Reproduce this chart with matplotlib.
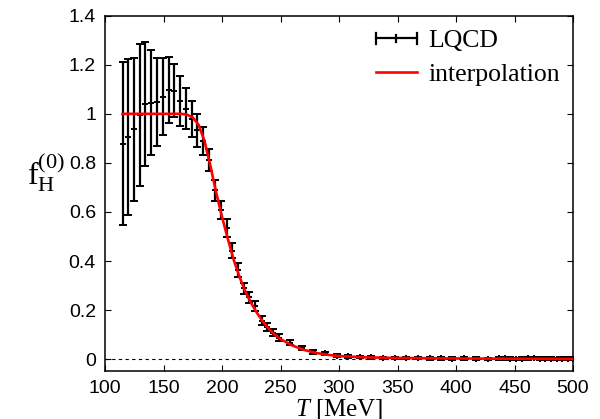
import matplotlib
matplotlib.use("Agg")
import matplotlib.pyplot as plt
from matplotlib.ticker import FuncFormatter
from matplotlib.lines import Line2D
from matplotlib.legend_handler import HandlerBase

# LQCD data
T_lqcd = [115, 120, 124.5, 129.5, 134.5, 139.5, 144.5, 149.5, 154.5, 159, 164, 169, 174, 179,
          184, 189, 194, 199, 204, 208.5, 213.5, 218.5, 223.5, 228.5, 234, 238.5, 243.5, 248.5,
          258.5, 268, 278, 288, 298, 308, 318, 327.5, 337.5, 347.5, 357.5, 367.5, 377.5, 387.5,
          397, 407, 417, 427, 437, 441.5, 446.5, 451.5, 456.5, 461.5, 466.5, 471.5, 476, 481,
          486, 491, 495.5, 500]
f_lqcd = [0.879, 0.905, 0.937, 0.996, 1.041, 1.046, 1.049, 1.07, 1.097, 1.094, 1.053, 1.021,
          0.979, 0.933, 0.89, 0.81, 0.688, 0.608, 0.534, 0.443, 0.364, 0.289, 0.252, 0.218,
          0.157, 0.13, 0.108, 0.088, 0.068, 0.045, 0.031, 0.024, 0.014, 0.012, 0.010, 0.007,
          0.006, 0.005, 0.004, 0.004, 0.003, 0.003, 0.002, 0.003, 0.002, 0.001, 0.003, 0.003,
          0.002, 0.001, 0.002, 0.003, 0.004, 0.002, 0.002, 0.002, 0.001, 0.002, 0.002, 0.002]
err_lqcd = [0.333, 0.317, 0.292, 0.289, 0.253, 0.213, 0.179, 0.157, 0.135, 0.108, 0.102, 0.084,
            0.072, 0.067, 0.058, 0.045, 0.043, 0.038, 0.037, 0.032, 0.027, 0.023, 0.022, 0.02,
            0.018, 0.017, 0.015, 0.013, 0.011, 0.009, 0.008, 0.007, 0.006, 0.006, 0.005, 0.005,
            0.005, 0.005, 0.005, 0.005, 0.005, 0.005, 0.005, 0.005, 0.005, 0.005, 0.005, 0.005,
            0.005, 0.005, 0.005, 0.005, 0.005, 0.005, 0.005, 0.005, 0.005, 0.005, 0.005, 0.005]

# interpolation curve
T_interp = [115, 130, 150, 165, 170, 175, 180, 185, 190, 195, 200, 205, 210, 215, 220, 225,
            230, 235, 240, 245, 250, 260, 270, 280, 290, 300, 320, 350, 400, 450, 500]
f_interp = [1.0, 1.0, 1.0, 1.0, 0.997, 0.985, 0.955, 0.89, 0.79, 0.68, 0.58, 0.49, 0.405,
            0.335, 0.275, 0.228, 0.188, 0.153, 0.124, 0.100, 0.082, 0.056, 0.038, 0.026,
            0.018, 0.013, 0.008, 0.005, 0.003, 0.002, 0.001]

x_ticks = [100, 150, 200, 250, 300, 350, 400, 450, 500]
y_ticks = [0, 0.2, 0.4, 0.6, 0.8, 1.0, 1.2, 1.4]

plt.rcParams['mathtext.fontset'] = 'custom'
plt.rcParams['mathtext.rm'] = 'Liberation Serif'
plt.rcParams['mathtext.it'] = 'Liberation Serif:italic'


class HorizontalErrorbarHandler(HandlerBase):
    def create_artists(self, legend, orig_handle, xdescent, ydescent, width, height,
                       fontsize, trans):
        y = height / 2 - ydescent
        x0, x1 = -xdescent, -xdescent + width
        xm = (x0 + x1) / 2
        cap = height * 0.3
        tick = height * 0.18
        arts = [
            Line2D([x0, x1], [y, y], color='black', lw=1.6),
            Line2D([x0, x0], [y - cap, y + cap], color='black', lw=1.6),
            Line2D([x1, x1], [y - cap, y + cap], color='black', lw=1.6),
            Line2D([xm, xm], [y - tick, y + tick], color='black', lw=1.6),
        ]
        for a in arts:
            a.set_transform(trans)
        return arts


fig = plt.figure(figsize=(6, 4.19), dpi=100)
ax = fig.add_axes([0.175, 0.1146, 0.78, 0.848])

ax.axhline(0, color='black', lw=0.8, ls=(0, (3, 3)), zorder=1)
ax.errorbar(T_lqcd, f_lqcd, yerr=err_lqcd, fmt='+', color='black', ms=4, mew=1.4,
            elinewidth=1.6, capsize=2.6, capthick=1.6, zorder=2)
line, = ax.plot(T_interp, f_interp, color='red', lw=1.9, zorder=3)

ax.set_xlim(100, 500)
ax.set_ylim(-0.048, 1.4)
ax.set_xticks(x_ticks)
ax.set_yticks(y_ticks)
ax.yaxis.set_major_formatter(FuncFormatter(lambda v, p: '%g' % round(v, 3)))
ax.tick_params(direction='in', top=True, right=True, length=4.5, width=0.8,
               labelsize=14, pad=6.5)
for lab in ax.get_xticklabels() + ax.get_yticklabels():
    lab.set_fontfamily('Liberation Sans')
for s in ax.spines.values():
    s.set_linewidth(1.1)

ax.set_xlabel(r'$T$ [MeV]', fontfamily='Liberation Serif', fontsize=18, labelpad=0)
ax.set_ylabel(r'$\mathrm{f}_{\mathrm{H}}^{(0)}$', fontsize=23, rotation=0,
              ha='center', va='center')
ax.yaxis.set_label_coords(-0.125, 0.56)

proxy = Line2D([], [], color='black')
leg = ax.legend([proxy, line], ['LQCD', 'interpolation'],
                handler_map={proxy: HorizontalErrorbarHandler()},
                loc='upper right', frameon=False,
                prop={'family': 'Liberation Serif', 'size': 18.5},
                handlelength=1.6, handletextpad=0.45, labelspacing=0.4,
                borderaxespad=0.2, bbox_to_anchor=(1.005, 1.005))

fig.savefig('out.png', dpi=100)
